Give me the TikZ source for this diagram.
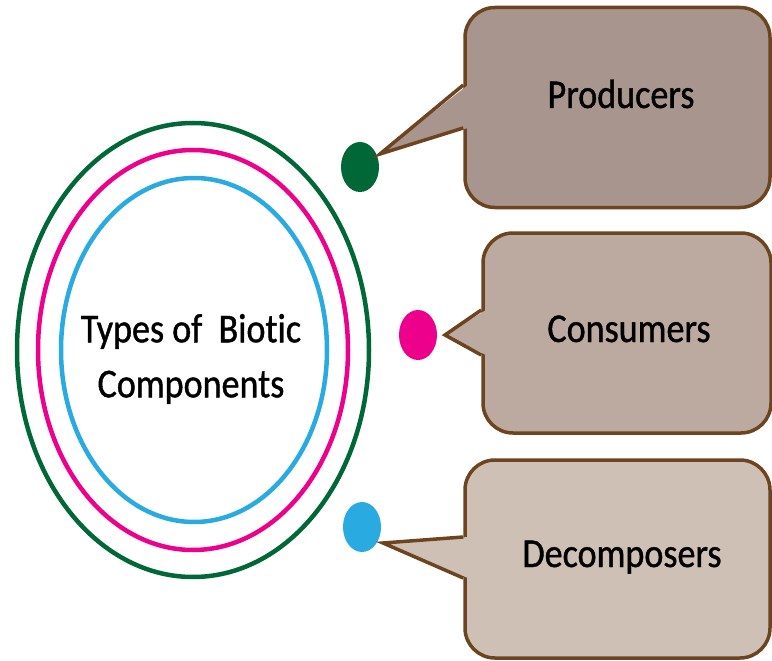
\documentclass[tikz,border=0pt]{standalone}
\usepackage{fontspec}
\setmainfont{Carlito}[FakeStretch=0.88, FakeBold=1, Ligatures=NoCommon]
\usetikzlibrary{shapes.geometric}

\definecolor{dkgreen}{RGB}{0,104,55}
\definecolor{hotpink}{RGB}{236,0,140}
\definecolor{skyblue}{RGB}{41,171,226}
\definecolor{rim}{RGB}{108,68,32}
\definecolor{prodfill}{RGB}{168,150,142}
\definecolor{consfill}{RGB}{188,170,161}
\definecolor{decofill}{RGB}{207,192,181}

\tikzset{
  ring/.style={line width=4.5pt},
  dot/.style={ellipse, inner sep=0pt, minimum width=38, minimum height=50},
  bubble/.style={draw=rim, line width=3.5pt, rounded corners=30pt, minimum width=305, minimum height=200, inner sep=0pt},
  lbl/.style={font=\fontsize{41}{55}\selectfont, inner sep=0pt}
}

\begin{document}
\begin{tikzpicture}[x=1pt,y=-1pt]
				\useasboundingbox (0,0) rectangle (772,661);
				
				% rings round the title
				\draw[ring, dkgreen] (193,350) ellipse [x radius=176, y radius=227];
				\draw[ring, hotpink] (193,350) ellipse [x radius=155, y radius=200];
				\draw[ring, skyblue] (194,350) ellipse [x radius=133, y radius=172];
				\node[lbl, align=center] (title) at (191,359) {Types of\ \ Biotic\\Components};
				
				% dots
				\node[dot, fill=dkgreen] (gdot) at (360,167) {};
				\node[dot, fill=hotpink] (pdot) at (418,335) {};
				\node[dot, fill=skyblue] (bdot) at (362,527) {};
				
				% callouts
				\node[bubble, fill=prodfill] (prod) at (617.5,107.5) {};
				\node[bubble, fill=consfill, minimum width=288] (cons) at (627,333) {};
				\node[bubble, fill=decofill, minimum height=198] (deco) at (617.5,559) {};
				
				\coordinate (tip1) at (380,154);
				\coordinate (tip2) at (445,335);
				\coordinate (tip3) at (383,543);
				
				\fill[prodfill] (tip1) -- (468,85) -- (468,128) -- cycle;
				\draw[rim, line width=3.5pt] (prod.west |- 0,85) -- (tip1) -- (prod.west |- 0,128);
				\fill[consfill] (tip2) -- (486,310) -- (486,355) -- cycle;
				\draw[rim, line width=3.5pt] (cons.west |- 0,310) -- (tip2) -- (cons.west |- 0,355);
				\fill[decofill] (tip3) -- (468,537) -- (468,578) -- cycle;
				\draw[rim, line width=3.5pt] (deco.west |- 0,537) -- (tip3) -- (deco.west |- 0,578);
				
				\node[lbl, anchor=base] (prodtxt) at (621,108) {Producers};
				\node[lbl, anchor=base] (constxt) at (629,342) {Consumers};
				\node[lbl, anchor=base] (decotxt) at (622,567) {Decomposers};
			\end{tikzpicture}
\end{document}
